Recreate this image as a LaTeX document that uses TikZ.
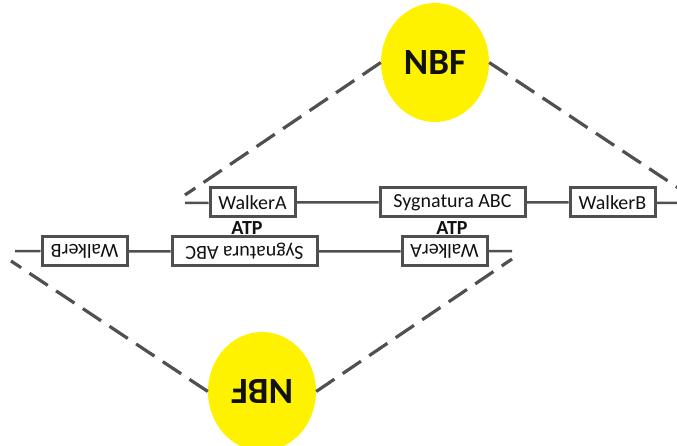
\documentclass[tikz,border=0pt]{standalone}
\usepackage{fontspec}
\setmainfont{Carlito}
\usepackage{tikz}
\usetikzlibrary{shapes.geometric, positioning}
\definecolor{nbfyellow}{HTML}{FFF200}
\definecolor{linegray}{HTML}{505050}
\definecolor{textgray}{HTML}{111111}

\begin{document}
\begin{tikzpicture}[
  x=1pt, y=-1pt,
  font=\fontsize{20}{22}\selectfont, text=textgray,
  walker/.style={rectangle, draw=linegray, line width=3pt, fill=white, minimum width=85pt, minimum height=29pt, inner sep=2pt},
  signature/.style={walker, minimum width=145pt},
  nbf/.style={ellipse, fill=nbfyellow, minimum width=108pt, minimum height=119pt, inner sep=0pt, font=\fontsize{37}{40}\selectfont\bfseries},
  atp/.style={font=\fontsize{20}{22}\selectfont\bfseries, inner sep=0pt},
  chain/.style={draw=linegray, line width=2.5pt},
  tether/.style={draw=linegray, line width=3.2pt, dash pattern=on 22pt off 10pt}]
\useasboundingbox (0,0) rectangle (677,446);
\clip (0,0) rectangle (677,446);
% the two halves, the lower one turned round
\foreach \r/\s in {0/t,180/b}{
  \begin{scope}[rotate around={\r:(348.5,227)}, transform shape]
    \node[nbf] (nbf\s) at (435,62.5) {NBF};
    \node[walker] (wa\s) at (252.5,202.5) {WalkerA};
    \node[signature] (abc\s) at (452.5,202.5) {Sygnatura ABC};
    \node[walker] (wb\s) at (612.5,202.5) {WalkerB};
    \coordinate (ls\s) at (185,203);
    \coordinate (rs\s) at (682,203);
    \coordinate (le\s) at (185,195);
    \coordinate (re\s) at (686,193);
    \draw[chain] (ls\s) -- (wa\s) -- (abc\s) -- (wb\s) -- (rs\s);
    \draw[tether] (nbf\s.west) -- (le\s);
    \draw[tether] (nbf\s.east) -- (re\s);
  \end{scope}
}
\node[atp] (atp1) at (247,228) {ATP};
\node[atp] (atp2) at (452,228) {ATP};
\end{tikzpicture}
\end{document}
